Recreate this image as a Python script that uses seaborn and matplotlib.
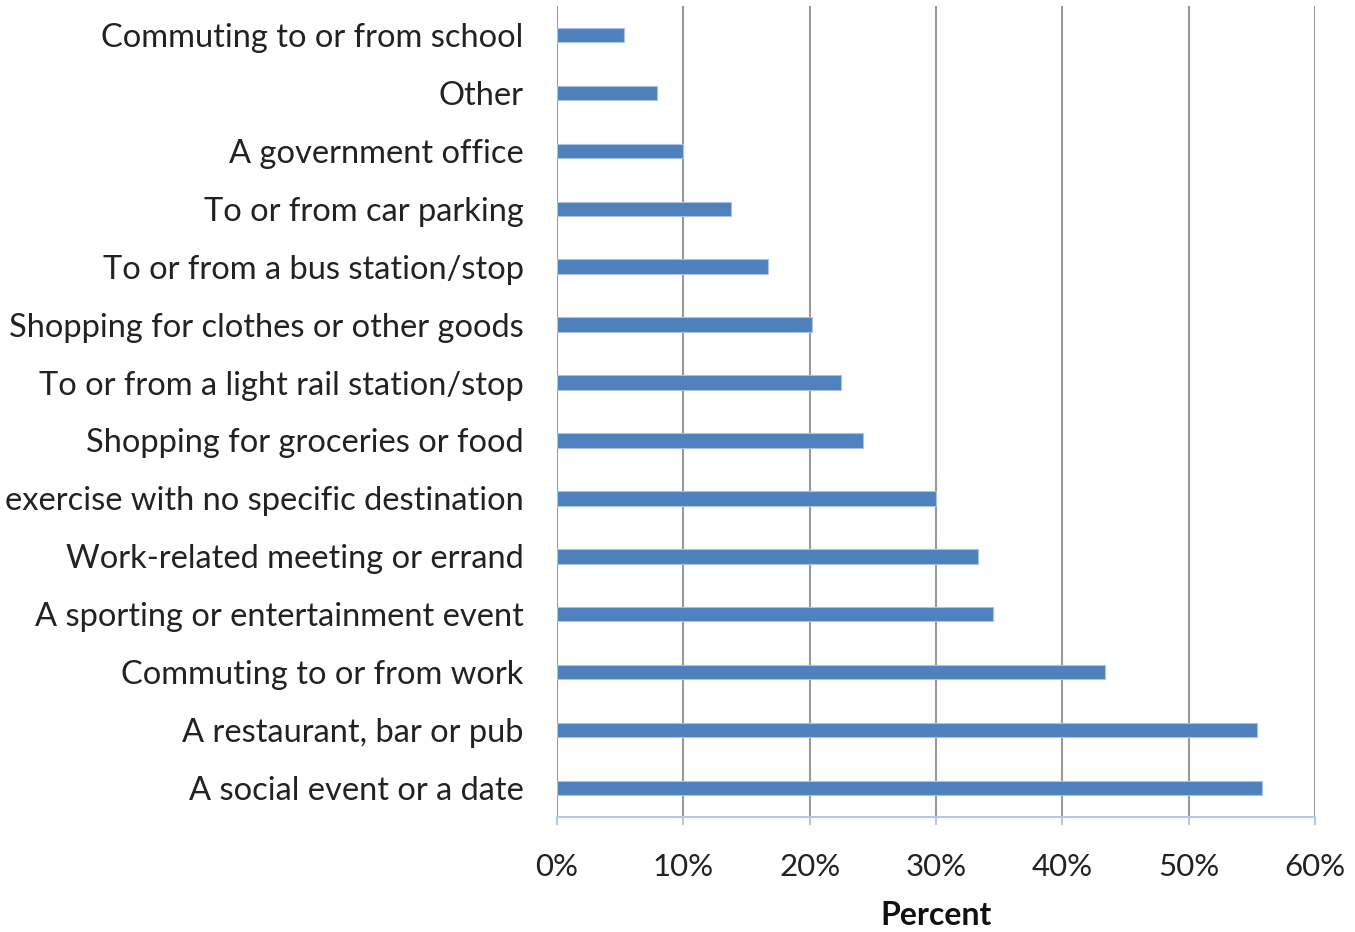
import matplotlib
matplotlib.use("Agg")
import matplotlib.pyplot as plt
import seaborn as sns
import pandas as pd
from matplotlib.ticker import FuncFormatter

categories = [
    "Commuting to or from school",
    "Other",
    "A government office",
    "To or from car parking",
    "To or from a bus station/stop",
    "Shopping for clothes or other goods",
    "To or from a light rail station/stop",
    "Shopping for groceries or food",
    "exercise with no specific destination",
    "Work-related meeting or errand",
    "A sporting or entertainment event",
    "Commuting to or from work",
    "A restaurant, bar or pub",
    "A social event or a date",
]
values = [5.3, 7.9, 10.0, 13.8, 16.7, 20.2, 22.5, 24.2, 30.0, 33.3, 34.5, 43.4, 55.4, 55.8]
x_ticks = [0, 10, 20, 30, 40, 50, 60]

df = pd.DataFrame({"category": categories, "value": values})

sns.set_theme(style="white")
plt.rcParams["font.family"] = ["Lato", "DejaVu Sans"]

fig = plt.figure(figsize=(13.55, 9.32), dpi=100)
ax = fig.add_axes([557 / 1355, 1 - 817 / 932, (1315 - 557) / 1355, (817 - 6) / 932])

sns.barplot(data=df, x="value", y="category", order=categories, orient="h",
            color="#4f81bd", width=0.25, edgecolor="#a9c2e4", linewidth=0.8,
            saturation=1, ax=ax, zorder=3)

ax.set_xlim(0, 60)
ax.set_ylim(len(categories) - 0.5, -0.5)
ax.set_xticks(x_ticks)
ax.xaxis.set_major_formatter(FuncFormatter(lambda v, p: f"{int(v)}%"))
ax.grid(axis="x", color="#999999", linewidth=1.5, zorder=0)
ax.grid(axis="y", visible=False)

for s in ["top", "right", "left"]:
    ax.spines[s].set_visible(False)
ax.spines["bottom"].set_color("#b4c7e7")
ax.spines["bottom"].set_linewidth(1.5)
ax.spines["bottom"].set_zorder(4)

ax.tick_params(axis="x", which="major", direction="out", length=6, width=1.5,
               color="#b4c7e7", labelsize=22.5, labelcolor="#222222", pad=20, bottom=True)
ax.tick_params(axis="y", length=0, labelsize=23.5, labelcolor="#222222", pad=24)

ax.set_ylabel("")
ax.set_xlabel("Percent", fontsize=23, fontweight="bold", color="#111111", labelpad=14)

fig.savefig("out.png", dpi=100)
